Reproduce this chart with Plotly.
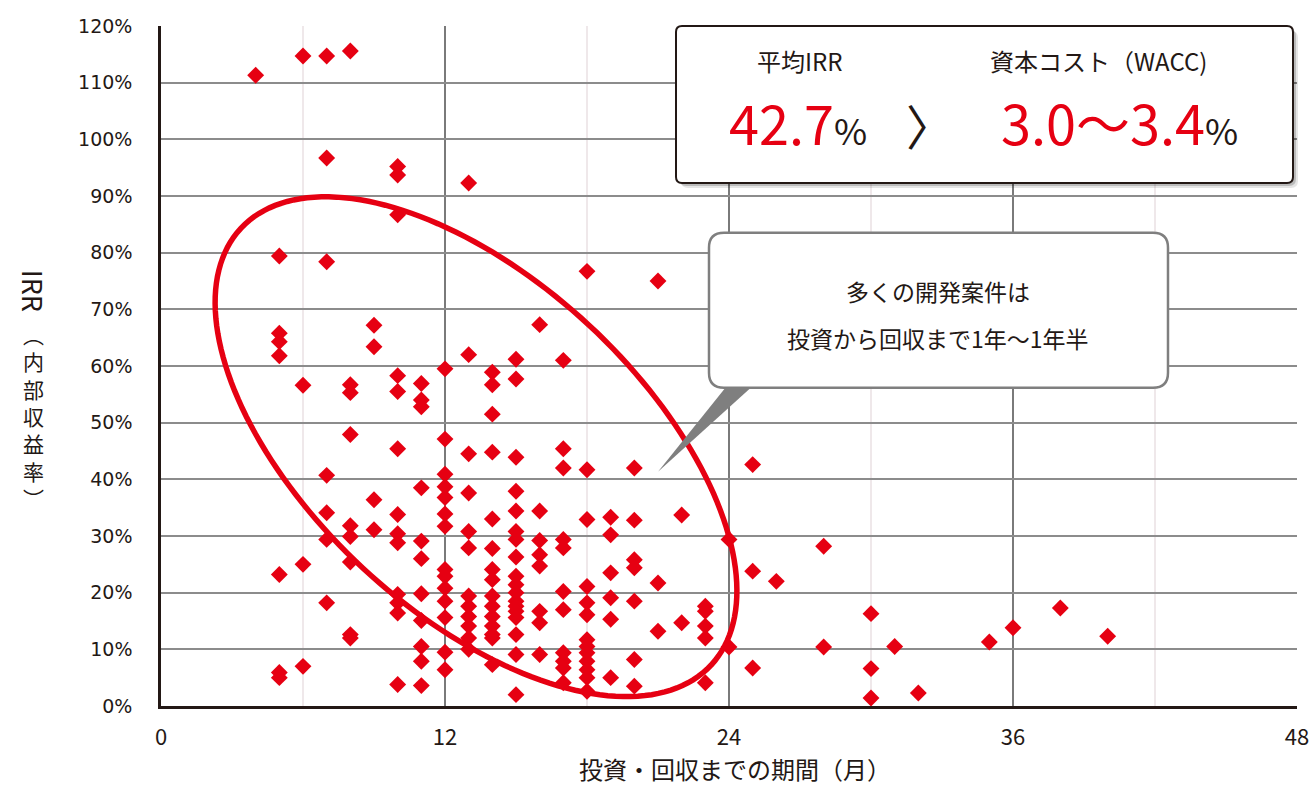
import plotly.graph_objects as go
import numpy as np

# ---------------- data ----------------
period_months = (
    [4] * 1 + [5] * 7 + [6] * 4 + [7] * 7 + [8] * 9 + [9] * 4 + [10] * 13 + [11] * 11 +
    [12] * 14 + [13] * 12 + [14] * 15 + [15] * 18 + [16] * 8 + [17] * 11 + [18] * 13 +
    [19] * 6 + [20] * 7 + [21] * 3 + [22] * 2 + [23] * 5 + [24] * 2 + [25] * 3 + [26] * 1 +
    [28] * 2 + [30] * 3 + [31] * 1 + [32] * 1 + [35] * 1 + [36] * 1 + [38] * 1 + [40] * 1
)
irr_pct = (
    [111.3] +
    [79.4, 65.8, 64.3, 61.8, 23.2, 5.9, 5.0] +
    [114.7, 56.6, 25.0, 7.0] +
    [114.7, 96.7, 78.4, 40.7, 34.1, 29.4, 18.2] +
    [115.6, 56.7, 55.3, 47.9, 31.8, 29.9, 25.4, 12.6, 12.0] +
    [67.2, 63.4, 36.4, 31.1] +
    [95.2, 93.7, 86.7, 58.3, 55.5, 45.4, 33.8, 30.4, 28.8, 19.7, 18.2, 16.4, 3.8] +
    [56.9, 54.0, 52.8, 38.5, 29.1, 26.0, 19.8, 15.1, 10.5, 7.9, 3.6] +
    [59.5, 47.1, 40.9, 38.7, 36.8, 33.9, 31.7, 24.1, 22.9, 20.8, 18.5, 15.6, 9.5, 6.4] +
    [92.3, 62.0, 44.5, 37.6, 30.8, 27.9, 19.4, 17.6, 15.8, 14.1, 12.0, 10.0] +
    [58.9, 56.7, 51.5, 44.8, 33.0, 27.8, 24.1, 22.3, 19.4, 17.6, 15.8, 14.1, 12.6, 12.0, 7.3] +
    [61.2, 57.7, 43.9, 37.9, 34.4, 30.8, 29.4, 26.3, 22.9, 21.4, 20.0, 18.5, 17.6, 16.7, 15.6, 12.6, 9.1, 2.0] +
    [67.3, 34.4, 29.2, 26.7, 24.7, 16.7, 14.7, 9.1] +
    [61.0, 45.4, 42.0, 29.4, 27.9, 20.2, 17.0, 9.4, 7.9, 6.7, 4.1] +
    [76.7, 41.7, 32.9, 21.1, 18.2, 16.1, 11.7, 10.5, 9.4, 7.9, 6.4, 5.0, 2.6] +
    [33.3, 30.2, 23.5, 19.1, 15.3, 5.0] +
    [42.0, 32.8, 25.8, 24.4, 18.5, 8.2, 3.5] +
    [75.0, 21.7, 13.2] +
    [33.7, 14.7] +
    [17.6, 16.7, 14.1, 12.0, 4.1] +
    [29.4, 10.4] +
    [42.6, 23.8, 6.7] +
    [22.0] +
    [28.2, 10.4] +
    [16.3, 6.6, 1.4] +
    [10.5] + [2.3] + [11.3] + [13.8] + [17.3] + [12.3]
)

x_ticks = [0, 12, 24, 36, 48]
y_ticks = list(range(0, 121, 10))
y_tick_labels = [f"{v}%" for v in y_ticks]

label_avg = "平均IRR"
label_wacc = "資本コスト（WACC)"
value_avg = "42.7"
value_wacc = "3.0～3.4"
callout_lines = ["多くの開発案件は", "投資から回収まで1年～1年半"]
x_title = "投資・回収までの期間（月）"
y_title_latin = "IRR"
y_title_cjk = ["︵", "内", "部", "収", "益", "率", "︶"]

# ---------------- styling ----------------
RED = "#e60012"
INK = "#231815"
W, H = 1312, 787
# plot-area edges in screen pixels
L, R, T, B = 161, 1297, 26, 706.5
CJK = "Noto Sans CJK JP"


def pp(px, py):
    """screen pixel -> paper coordinates"""
    return (px - L) / (R - L), (B - py) / (B - T)


def rrect_path(x0, y0, x1, y1, r):
    def P(x, y):
        a, b = pp(x, y)
        return f"{a:.5f},{b:.5f}"
    return (f"M {P(x0 + r, y0)} L {P(x1 - r, y0)} Q {P(x1, y0)} {P(x1, y0 + r)} "
            f"L {P(x1, y1 - r)} Q {P(x1, y1)} {P(x1 - r, y1)} "
            f"L {P(x0 + r, y1)} Q {P(x0, y1)} {P(x0, y1 - r)} "
            f"L {P(x0, y0 + r)} Q {P(x0, y0)} {P(x0 + r, y0)} Z")


fig = go.Figure()
fig.add_trace(go.Scatter(
    x=period_months, y=irr_pct, mode="markers",
    marker=dict(symbol="diamond", size=13, color=RED, line=dict(width=0)),
    hoverinfo="skip", showlegend=False,
))

shapes = []

# ellipse highlighting the cluster (defined in pixel terms, converted to data units)
sx = (R - L) / 48.0
sy = (B - T) / 120.0
cx_px, cy_px, a_px, b_px, th = 476, 447, 321, 166, np.deg2rad(42.9)
t = np.linspace(0, 2 * np.pi, 181)
ex = cx_px + a_px * np.cos(t) * np.cos(th) - b_px * np.sin(t) * np.sin(th)
ey = cy_px + a_px * np.cos(t) * np.sin(th) + b_px * np.sin(t) * np.cos(th)
ell_path = "M " + " L ".join(f"{(x - L) / sx:.4f},{(B - y) / sy:.4f}" for x, y in zip(ex, ey)) + " Z"
shapes.append(dict(type="path", path=ell_path, xref="x", yref="y",
                   line=dict(color=RED, width=5.5), fillcolor="rgba(0,0,0,0)", layer="above"))

# top summary box with shadow
shapes.append(dict(type="path", path=rrect_path(681, 31, 1298, 188, 7), xref="paper", yref="paper",
                   line=dict(width=0), fillcolor="rgba(0,0,0,0.10)", layer="above"))
shapes.append(dict(type="path", path=rrect_path(679, 29, 1296, 186, 7), xref="paper", yref="paper",
                   line=dict(width=0), fillcolor="rgba(0,0,0,0.18)", layer="above"))
shapes.append(dict(type="path", path=rrect_path(676, 26, 1293, 183, 6), xref="paper", yref="paper",
                   line=dict(color=INK, width=2), fillcolor="white", layer="above"))

# callout tail + box
tp = [pp(727, 386), pp(753, 386), pp(658, 472)]
shapes.append(dict(type="path",
                   path=f"M {tp[0][0]},{tp[0][1]} L {tp[1][0]},{tp[1][1]} L {tp[2][0]},{tp[2][1]} Z",
                   xref="paper", yref="paper", line=dict(width=0), fillcolor="#7f7f7f", layer="above"))
shapes.append(dict(type="path", path=rrect_path(709, 233, 1168, 388, 15), xref="paper", yref="paper",
                   line=dict(color="#7f7f7f", width=2.5), fillcolor="white", layer="above"))

annotations = []


def ann(text, px, py, size, color=INK, family=CJK, angle=0, xanchor="center", yanchor="middle"):
    x, y = pp(px, py)
    annotations.append(dict(text=text, x=x, y=y, xref="paper", yref="paper", showarrow=False,
                            font=dict(size=size, color=color, family=family), textangle=angle,
                            xanchor=xanchor, yanchor=yanchor))


ann(label_avg, 800, 61, 24)
ann(label_wacc, 1098, 61, 24)
ann(f"<span style='color:{RED}'>{value_avg}</span><span style='font-size:36px'>%</span>", 798, 122, 54)
ann("〉", 930, 124, 48)
ann(f"<span style='color:{RED}'>{value_wacc}</span><span style='font-size:36px'>%</span>", 1119, 122, 54)
ann(callout_lines[0], 938, 291, 23)
ann(callout_lines[1], 938, 338, 23)
ann(x_title, 735, 769, 24)
ann(y_title_latin, 33, 291, 27, angle=90)
ann("<br>".join(y_title_cjk), 33, 416, 21)

fig.update_layout(
    width=W, height=H,
    margin=dict(l=L, r=W - R, t=T, b=H - B, pad=0, autoexpand=False),
    paper_bgcolor="white", plot_bgcolor="white",
    shapes=shapes, annotations=annotations,
    showlegend=False,
    xaxis=dict(
        range=[0, 48], tickvals=x_ticks, ticktext=[str(v) for v in x_ticks],
        showgrid=True, gridcolor="#7a7a7a", gridwidth=2,
        minor=dict(tickvals=[6, 18, 30, 42], showgrid=True, gridcolor="#efe8ea", gridwidth=2, ticks=""),
        showline=True, linecolor=INK, linewidth=2.5, zeroline=False, ticks="",
        ticklabelstandoff=10, automargin=False,
        tickfont=dict(family=CJK, size=22, color=INK),
    ),
    yaxis=dict(
        range=[0, 120], tickvals=y_ticks, ticktext=y_tick_labels,
        showgrid=True, gridcolor="#8c8c8c", gridwidth=1.5,
        showline=True, linecolor=INK, linewidth=2.5, zeroline=False, ticks="",
        ticklabelstandoff=22, automargin=False,
        tickfont=dict(family="DejaVu Sans, Verdana", size=19, color=INK),
    ),
)

# remove the browser's default 8px page margin so the figure fills the window exactly
fig.write_html("out.html", config={"displayModeBar": False},
               post_script="document.body.style.margin='0';document.body.style.overflow='hidden';")
